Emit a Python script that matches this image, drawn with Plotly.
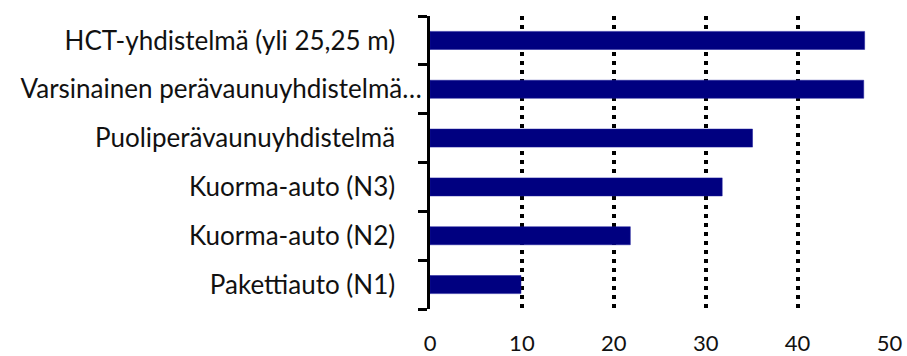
import plotly.graph_objects as go

categories = [
    "Pakettiauto (N1)",
    "Kuorma-auto (N2)",
    "Kuorma-auto (N3)",
    "Puoliperävaunuyhdistelmä",
    "Varsinainen perävaunuyhdistelmä…",
    "HCT-yhdistelmä (yli 25,25 m)",
]
values = [9.9, 21.8, 31.8, 35.1, 47.2, 47.3]
x_ticks = [0, 10, 20, 30, 40, 50]

FONT = "Lato"
PAD = "\u00a0" * 4
tick_text = [c if c.endswith("…") else c + PAD for c in categories]

fig = go.Figure(
    go.Bar(
        y=categories,
        x=values,
        orientation="h",
        marker=dict(color="#000080", line=dict(color="#1a1a9a", width=0.5)),
        width=0.37,
    )
)

fig.update_layout(
    width=907,
    height=356,
    margin=dict(l=430, r=17, t=16, b=47),
    paper_bgcolor="white",
    plot_bgcolor="white",
    showlegend=False,
    font=dict(family=FONT, size=26, color="#111111"),
)

fig.update_xaxes(
    range=[0, 50.06],
    tickvals=x_ticks,
    ticktext=[str(v) for v in x_ticks],
    tickfont=dict(size=22),
    showgrid=True,
    gridcolor="black",
    griddash="4px,5px",
    gridwidth=4,
    zeroline=False,
    showline=False,
    ticks="",
    ticklabelstandoff=19,
    automargin=False,
)

fig.update_yaxes(
    type="category",
    categoryorder="array",
    categoryarray=categories,
    tickvals=categories,
    ticktext=tick_text,
    showline=True,
    linecolor="black",
    linewidth=3,
    ticks="outside",
    tickson="boundaries",
    ticklen=9,
    tickwidth=3,
    tickcolor="black",
    showgrid=False,
    ticklabelstandoff=0,
    automargin=False,
)

fig.write_html(
    "out.html",
    config={"displayModeBar": False},
    post_script="document.body.style.margin='0px';document.body.style.overflow='hidden';",
)
